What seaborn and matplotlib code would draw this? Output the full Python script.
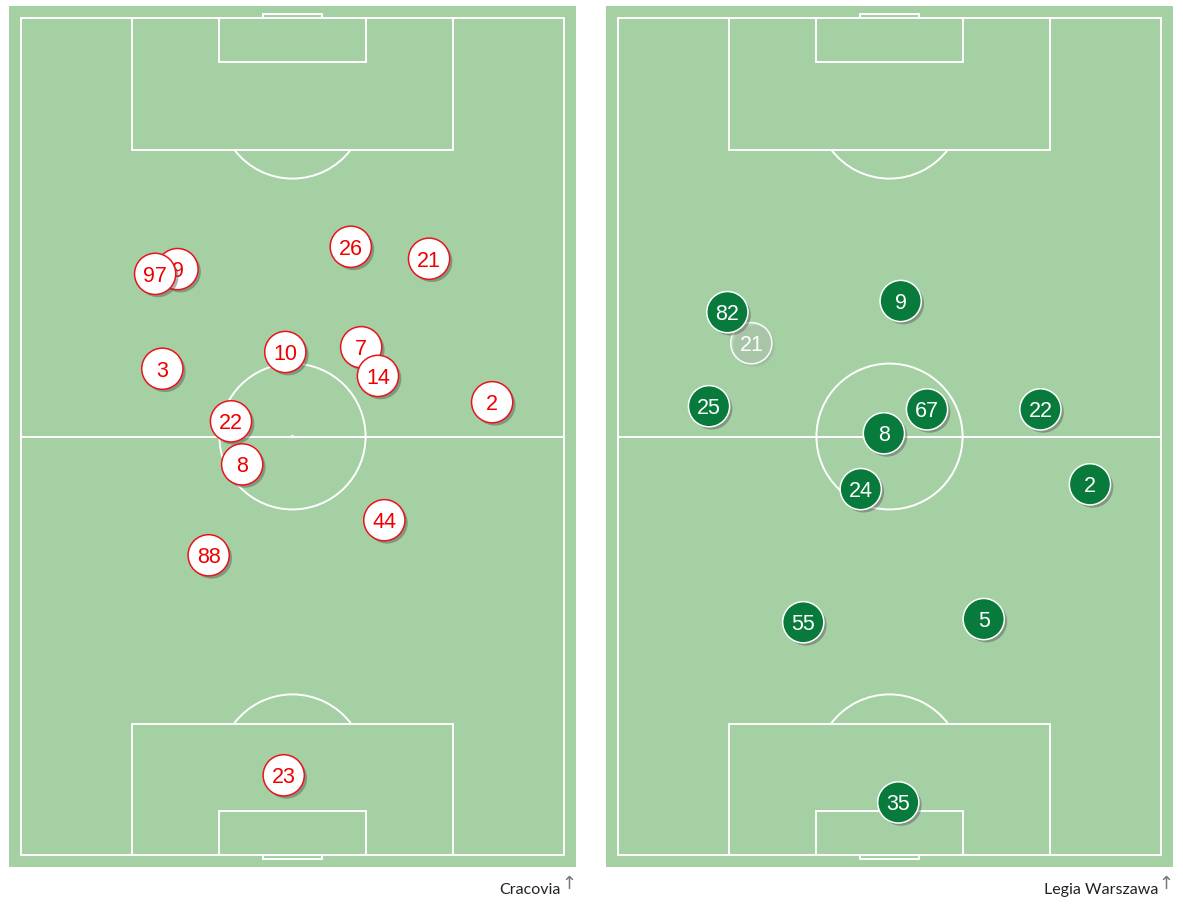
import matplotlib
matplotlib.use("Agg")
import matplotlib.pyplot as plt
import matplotlib.patheffects as pe
from matplotlib.patches import Rectangle, Circle, Arc
import seaborn as sns
import pandas as pd

# ---- data (pitch metres: x across 0..68, y from own goal-line at top, 0..105) ----
home_team = "Cracovia"
home_numbers = ["9", "97", "26", "21", "3", "10", "7", "14", "2", "22", "8", "44", "88", "23"]
home_x = [19.6, 16.8, 41.3, 51.1, 17.7, 33.1, 42.6, 44.7, 59.0, 26.3, 27.7, 45.5, 23.5, 32.9]
home_y = [31.5, 32.1, 28.7, 30.2, 44.0, 41.9, 41.3, 44.9, 48.2, 50.6, 56.0, 63.0, 67.4, 95.0]

away_team = "Legia Warszawa"
away_numbers = ["21", "82", "9", "25", "67", "8", "22", "24", "2", "55", "5", "35"]
away_x = [16.7, 13.7, 35.4, 11.4, 38.7, 33.3, 52.9, 30.4, 59.1, 23.2, 45.8, 35.1]
away_y = [40.8, 36.9, 35.5, 48.7, 49.1, 52.1, 49.1, 59.1, 58.5, 75.8, 75.4, 98.4]
away_faded = [True, False, False, False, False, False, False, False, False, False, False, False]

PITCH_BG = "#a5d0a3"
LINE = "white"
L, W = 105.0, 68.0
M = 1.5

sns.set_theme(style="white")
plt.rcParams["font.family"] = ["DejaVu Sans"]

fig = plt.figure(figsize=(11.83, 9.06), dpi=100)
FW, FH = 1183, 906


def make_ax(px0):
    ax = fig.add_axes([px0 / FW, 1 - 867 / FH, 567 / FW, 861 / FH])
    ax.set_xlim(-M, W + M)
    ax.set_ylim(L + M, -M)
    ax.set_facecolor(PITCH_BG)
    ax.axis("off")
    ax.add_patch(Rectangle((-M, -M), W + 2 * M, L + 2 * M, facecolor=PITCH_BG, edgecolor="none", zorder=0))
    lw = 1.4
    kw = dict(fill=False, edgecolor=LINE, linewidth=lw, zorder=1)
    ax.add_patch(Rectangle((0, 0), W, L, **kw))
    ax.plot([0, W], [L / 2, L / 2], color=LINE, lw=lw, zorder=1)
    ax.add_patch(Circle((W / 2, L / 2), 9.15, **kw))
    ax.add_patch(Circle((W / 2, L / 2), 0.12, color=LINE, zorder=1))
    for top in (True, False):
        y0 = 0 if top else L
        s = 1 if top else -1
        ax.add_patch(Rectangle((W / 2 - 20.16, y0), 40.32, s * 16.5, **kw))
        ax.add_patch(Rectangle((W / 2 - 9.16, y0), 18.32, s * 5.5, **kw))
        ax.add_patch(Rectangle((W / 2 - 3.66, y0), 7.32, -s * 0.5, **kw))
        spot = 11 if top else L - 11
        t1, t2 = (37, 143) if top else (217, 323)
        ax.add_patch(Arc((W / 2, spot), 18.3, 18.3, theta1=t1, theta2=t2,
                         edgecolor=LINE, lw=lw, zorder=1))
    return ax


def players(ax, df, face, edge, txt, alpha_col=None):
    for i, row in df.iterrows():
        faded = alpha_col is not None and bool(row[alpha_col])
        sub = df.loc[[i]]
        sns.scatterplot(data=sub, x="x", y="y", ax=ax, s=880, color=face, edgecolor=edge,
                        linewidth=1.1, zorder=3 + 2 * i, legend=False)
        coll = ax.collections[-1]
        if not faded:
            coll.set_path_effects([pe.SimplePatchShadow(offset=(2, -2), shadow_rgbFace="#555555", alpha=0.45),
                                   pe.Normal()])
        else:
            coll.set_facecolor((1, 1, 1, 0.12))
            coll.set_edgecolor((1, 1, 1, 0.95))
            coll.set_path_effects([pe.SimplePatchShadow(offset=(2, -2), shadow_rgbFace="#8a8a8a", alpha=0.25),
                                   pe.Normal()])
        ax.text(row["x"], row["y"], row["num"], ha="center", va="center_baseline",
                fontsize=15.5, color=("white" if faded else txt), family="Liberation Sans",
                zorder=4 + 2 * i)


home = pd.DataFrame({"num": home_numbers, "x": home_x, "y": home_y})
away = pd.DataFrame({"num": away_numbers, "x": away_x, "y": away_y, "faded": away_faded})

ax1 = make_ax(9)
players(ax1, home, "white", "#e8141c", "#ee0000")
ax1.set_xlabel("")
ax1.set_ylabel("")

ax2 = make_ax(606)
players(ax2, away, "#087a3c", "white", "white", alpha_col="faded")
ax2.set_xlabel("")
ax2.set_ylabel("")

fig.text(561 / FW, 1 - 890 / FH, home_team, ha="right", va="center", fontsize=11.5, family="Lato", color="#222222")
fig.text(569 / FW, 1 - 884 / FH, "\u2191", ha="center", va="center", fontsize=13, color="#777777")
fig.text(1158 / FW, 1 - 890 / FH, away_team, ha="right", va="center", fontsize=11.5, family="Lato", color="#222222")
fig.text(1166 / FW, 1 - 884 / FH, "\u2191", ha="center", va="center", fontsize=13, color="#777777")

fig.savefig("out.png", dpi=100)
